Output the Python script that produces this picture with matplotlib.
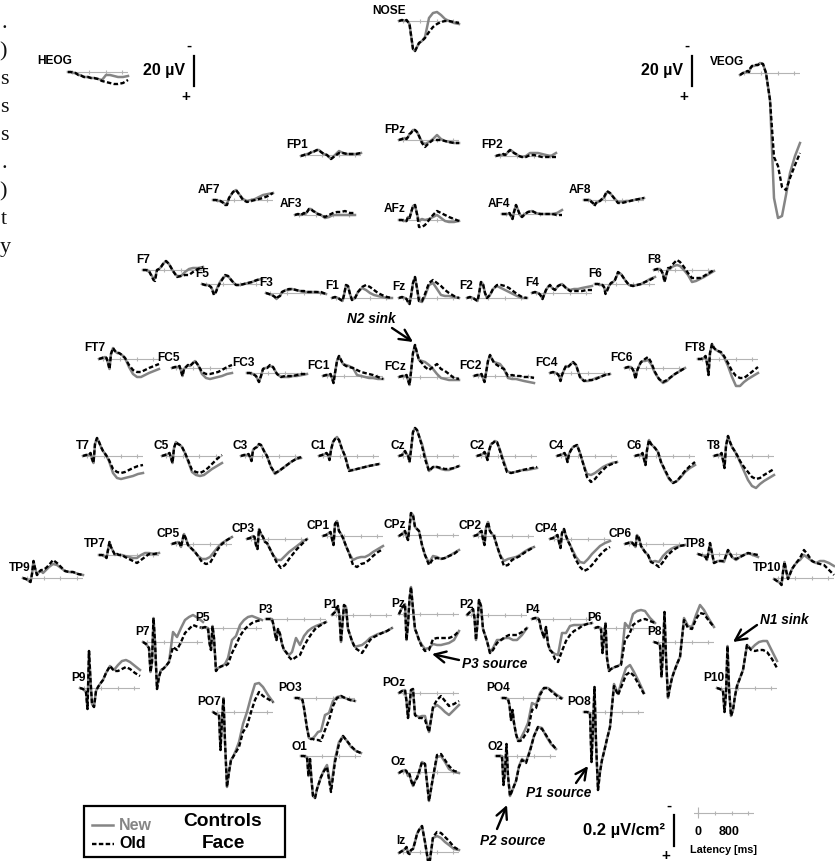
import matplotlib
matplotlib.use("Agg")
import matplotlib.pyplot as plt
from matplotlib.patches import Rectangle

plt.rcParams['font.family'] = ['Liberation Sans', 'DejaVu Sans']

W, H = 835, 861

# latency of the read-off samples, ms
LATENCY = [-100, -28, 44, 80, 116, 152, 188, 236, 284, 332, 380, 452, 524, 620, 716, 812, 908, 1004, 1100, 1220, 1340]
TICKS = [0, 400, 800, 1200]

# amplitudes in scale-bar units (31 units = 0.2 uV/cm2), up is negative polarity
NOSE_NEW = [0, 1, 0, 1, -1, -3, -14, -28, -30, -26, -22, -20, -16, 3, 8, 9, 6, 2, 0, -2, -3]
NOSE_OLD = [0, 1, 0, 1, -1, -3, -14, -28, -30, -26, -22, -20, -17, -11, -6, -3, -1, 0, 0, -1, -2]
HEOG_NEW = [0, 0, -1, -1, -2, -3, -3, -4, -5, -5, -5, -6, -6, -7, -8, -3, -3, -4, -5, -5, -4]
HEOG_OLD = [0, 0, -1, -1, -2, -3, -3, -4, -5, -5, -5, -6, -6, -7, -9, -10, -11, -12, -12, -11, -8]
VEOG_NEW = [-2, 0, 1, 2, 1, 5, 7, 7, 8, 8, 10, 9, 0, -27, -125, -145, -143, -122, -100, -83, -70]
VEOG_OLD = [-2, 0, 1, 2, 1, 5, 7, 7, 8, 8, 10, 9, 0, -27, -84, -93, -114, -117, -105, -92, -80]
FP1_NEW = [-1, 0, 1, 1, 2, 3, 3, 4, 5, 5, 3, 1, 0, -4, 0, 4, 2, 1, 1, 1, 2]
FP1_OLD = [-1, 0, 1, 1, 2, 3, 3, 4, 5, 5, 3, 1, 0, -4, -1, 2, 2, 1, 1, 1, 2]
FPZ_NEW = [0, 1, 2, 1, 3, 6, 7, 10, 10, 8, 4, -2, -4, -2, 1, 5, 1, -1, -2, -3, -3]
FPZ_OLD = [0, 1, 2, 1, 3, 6, 7, 10, 10, 8, 4, -3, -7, -3, 0, 0, 0, -1, -2, -3, -3]
FP2_NEW = [0, 1, 1, 2, 1, 2, 4, 6, 5, 3, 2, 0, -1, 0, 3, 3, 3, 2, 1, 0, 3]
FP2_OLD = [0, 1, 1, 2, 1, 2, 4, 6, 5, 3, 2, 0, -1, -1, 1, 1, 0, -1, -1, -1, -1]
AF7_NEW = [0, 0, -1, -1, -2, -3, -4, -4, 2, 5, 8, 10, 6, 1, -1, 0, 1, 3, 5, 6, 7]
AF7_OLD = [0, 0, -1, -1, -2, -3, -5, -5, 2, 5, 8, 10, 6, 0, -2, -1, 0, 1, 2, 4, 7]
AF3_NEW = [0, 1, 0, 1, 2, 1, 3, 6, 6, 4, 3, 1, 0, -3, -2, 0, 0, 0, 0, 0, 0]
AF3_OLD = [0, 1, 0, 1, 2, 1, 3, 6, 6, 4, 3, 1, 0, -2, 0, 2, 3, 3, 4, 2, 2]
AFZ_NEW = [0, 0, -1, -1, 3, 2, 7, 14, 15, 6, -1, 1, 0, 1, 3, 5, 2, -1, -2, -2, -1]
AFZ_OLD = [0, 0, -1, -1, 3, 2, 7, 14, 15, 6, -7, -7, -5, 0, 5, 9, 7, 5, 3, 1, -1]
AF4_NEW = [0, 0, 0, 1, -2, -5, 2, 9, 4, -1, -3, 0, 2, 3, 1, 0, 0, 0, 0, 1, 4]
AF4_OLD = [0, 0, 0, 1, -2, -5, 2, 9, 4, -1, -3, 0, 2, 3, 1, 0, 0, 0, 0, -1, -1]
AF8_NEW = [0, 0, 0, -2, -3, -5, -3, -2, -1, 1, 2, 8, 7, 2, -2, -2, -1, -1, 0, 1, 2]
AF8_OLD = [0, 0, 0, -2, -3, -6, -3, -1, -1, 1, 3, 9, 7, 2, -3, -3, -2, -1, 0, 1, 2]
F7_NEW = [0, 0, -1, -4, -6, -9, -8, 0, 1, 3, 6, 9, 6, -1, -6, -6, -2, 1, 2, 2, 3]
F7_OLD = [0, 0, -1, -4, -7, -10, -11, 0, 1, 3, 6, 9, 6, -1, -7, -6, -5, -5, -2, 1, 3]
F5_NEW = [0, -1, -1, -2, -3, -6, -10, -7, -2, 2, 5, 8, 8, 3, -1, -1, 0, 1, 2, 4, 5]
F5_OLD = [0, -1, -1, -2, -3, -7, -11, -8, -3, 1, 4, 9, 8, 3, -1, -1, 0, 1, 2, 4, 5]
F3_NEW = [0, -1, -2, -3, -4, -6, -4, -3, 1, 2, 3, 3, 4, 3, 2, 1, 1, 1, 1, 0, -1]
F3_OLD = [0, -1, -2, -3, -4, -6, -4, -3, 1, 2, 3, 4, 4, 3, 2, 2, 1, 1, 1, 1, -1]
F1_NEW = [0, 1, 0, -1, -2, -3, 3, 13, 12, 4, -2, 0, 6, 10, 8, 5, 3, 2, 1, 0, 0]
F1_OLD = [0, 1, 0, -1, -2, -3, 3, 13, 12, 4, -2, 0, 6, 11, 13, 11, 8, 5, 3, 1, 0]
FZ_NEW = [0, 1, 0, -1, -4, -6, 2, 15, 21, 10, -3, -4, 2, 13, 15, 9, 3, 2, 2, 1, 0]
FZ_OLD = [0, 1, 0, -1, -4, -6, 2, 15, 21, 10, -3, -3, 4, 15, 18, 15, 12, 8, 5, 2, 0]
F2_NEW = [0, 1, 0, -1, -2, -3, 4, 16, 14, 5, 0, 3, 9, 12, 10, 8, 6, 4, 2, 0, 0]
F2_OLD = [0, 1, 0, -1, -2, -3, 4, 16, 14, 5, 0, 3, 9, 13, 13, 12, 10, 7, 4, 1, 0]
F4_NEW = [0, 1, 0, -1, -3, -6, -2, 3, 6, 8, 5, 3, 7, 9, 5, 3, 4, 4, 5, 6, 7]
F4_OLD = [0, 1, 0, -1, -3, -6, -2, 3, 6, 8, 5, 3, 7, 9, 5, 2, 2, 2, 2, 3, 3]
F6_NEW = [0, 0, -1, -1, -3, -8, -6, -2, 1, 2, 4, 11, 10, 4, -1, -2, -1, 0, 2, 5, 7]
F6_OLD = [0, 0, -1, -1, -3, -10, -7, -2, 1, 2, 4, 12, 10, 4, -1, -2, -1, 0, 2, 4, 7]
F8_NEW = [0, 1, 1, -1, -4, -11, -6, 1, 1, 3, 4, 5, 4, 0, -5, -12, -11, -9, -7, -4, -1]
F8_OLD = [0, 1, 1, -1, -4, -12, -6, 2, 2, 5, 7, 10, 8, 3, -3, -8, -8, -8, -6, -3, 0]
FT7_NEW = [0, 1, 2, 1, -4, -10, 5, 11, 8, 6, 6, 4, 1, -8, -15, -18, -18, -16, -14, -12, -10]
FT7_OLD = [0, 1, 2, 1, -4, -10, 5, 11, 8, 6, 6, 4, 1, -6, -11, -13, -13, -11, -9, -7, -5]
FC5_NEW = [0, 1, 1, 2, -3, -8, -1, 1, 3, 2, 4, 7, 3, -6, -10, -11, -10, -9, -8, -6, -5]
FC5_OLD = [0, 1, 1, 2, -3, -8, -1, 1, 3, 2, 4, 7, 3, -4, -6, -6, -5, -4, -2, 1, 3]
FC3_NEW = [0, 0, -1, -2, -3, -6, -9, -3, 4, 5, 5, 7, 6, -1, -4, -4, -4, -3, -3, -2, -1]
FC3_OLD = [0, 0, -1, -2, -3, -6, -9, -3, 4, 5, 5, 8, 6, -1, -4, -3, -3, -3, -2, -1, -1]
FC1_NEW = [0, 1, 1, 2, -2, -7, 3, 15, 20, 16, 12, 11, 10, 8, 1, 0, -1, -2, -2, -3, -3]
FC1_OLD = [0, 1, 1, 2, -2, -7, 3, 15, 20, 16, 12, 10, 9, 8, 6, 4, 3, 2, 1, -1, -3]
FCZ_NEW = [0, 1, 1, 2, -3, -8, 5, 24, 32, 24, 17, 16, 15, 12, 8, 3, -1, -2, -3, -3, -3]
FCZ_OLD = [0, 1, 1, 2, -3, -8, 5, 24, 32, 24, 17, 14, 10, 7, 10, 13, 8, 6, 3, -1, -2]
FC2_NEW = [0, 1, 1, 2, -2, -6, 3, 15, 21, 17, 14, 13, 12, 7, -2, -3, -3, -4, -5, -6, -7]
FC2_OLD = [0, 1, 1, 2, -2, -6, 3, 15, 21, 17, 13, 11, 9, 7, 0, 1, 0, 0, -1, -1, -2]
FC4_NEW = [0, 1, 0, -1, -3, -8, -2, 3, 7, 6, 8, 11, 8, -4, -8, -8, -7, -5, -4, -2, -1]
FC4_OLD = [0, 1, 0, -1, -3, -8, -2, 3, 7, 6, 8, 11, 8, -4, -8, -7, -7, -6, -4, -2, -1]
FC6_NEW = [0, 1, 1, -1, -4, -10, -3, 2, 6, 7, 7, 8, 4, -5, -11, -15, -13, -9, -6, -3, 0]
FC6_OLD = [0, 1, 1, -1, -4, -11, -3, 2, 6, 7, 9, 11, 6, -4, -11, -14, -12, -9, -6, -3, 0]
FT8_NEW = [0, 0, 1, 3, -4, -16, 6, 15, 11, 9, 8, 6, 2, -7, -18, -27, -27, -23, -20, -17, -14]
FT8_OLD = [0, 0, 1, 3, -4, -16, 6, 15, 11, 9, 8, 7, 3, -4, -12, -17, -19, -19, -16, -12, -8]
T7_NEW = [0, 1, 1, 3, -3, -7, 12, 18, 14, 9, 5, 1, -5, -17, -22, -23, -22, -21, -20, -18, -17]
T7_OLD = [0, 1, 1, 3, -3, -7, 12, 18, 14, 9, 5, 1, -4, -13, -16, -17, -16, -14, -12, -10, -9]
C5_NEW = [0, 1, 2, 3, -2, -7, 8, 14, 12, 11, 9, 3, -5, -16, -19, -20, -19, -16, -13, -10, -7]
C5_OLD = [0, 1, 2, 3, -2, -7, 8, 14, 12, 11, 9, 3, -4, -14, -16, -17, -15, -12, -8, -3, 1]
C3_NEW = [0, 1, 1, 2, -1, -5, 6, 8, 9, 12, 11, 5, 0, -11, -18, -15, -12, -9, -6, -3, -2]
C3_OLD = [0, 1, 1, 2, -1, -5, 6, 8, 9, 12, 11, 5, 0, -11, -17, -15, -12, -9, -6, -3, -1]
C1_NEW = [0, 1, 2, 3, 1, -4, 6, 14, 17, 19, 16, 7, 0, -14, -14, -13, -12, -11, -10, -9, -8]
C1_OLD = [0, 1, 2, 3, 1, -4, 6, 14, 17, 18, 16, 7, 0, -15, -14, -13, -12, -11, -10, -9, -8]
CZ_NEW = [0, 1, 5, 2, 1, -6, 6, 24, 28, 26, 20, 12, 0, -15, -11, -11, -13, -14, -14, -12, -10]
CZ_OLD = [0, 1, 5, 2, 1, -6, 6, 24, 28, 26, 20, 10, -3, -15, -11, -11, -12, -13, -13, -12, -10]
C2_NEW = [0, 1, 2, 4, 1, -4, 5, 12, 13, 15, 14, 6, -3, -15, -17, -16, -15, -14, -14, -13, -12]
C2_OLD = [0, 1, 2, 4, 1, -4, 5, 12, 13, 15, 14, 5, -5, -16, -17, -16, -15, -14, -13, -12, -11]
C4_NEW = [0, 1, 2, 3, 0, -6, 2, 6, 9, 10, 11, 3, -7, -18, -19, -17, -14, -11, -9, -7, -6]
C4_OLD = [0, 1, 2, 3, 0, -6, 2, 6, 9, 10, 11, 3, -7, -21, -26, -23, -18, -14, -10, -8, -6]
C6_NEW = [0, 1, 1, 3, -3, -9, 6, 16, 12, 10, 8, 4, -6, -15, -23, -27, -25, -21, -16, -12, -9]
C6_OLD = [0, 1, 1, 3, -3, -9, 6, 16, 12, 10, 8, 4, -6, -14, -22, -27, -25, -20, -15, -10, -6]
T8_NEW = [0, 1, 1, 3, -4, -12, 10, 20, 14, 9, 6, 1, -6, -15, -24, -30, -32, -28, -25, -22, -19]
T8_OLD = [0, 1, 1, 3, -4, -12, 10, 20, 14, 9, 6, 1, -5, -11, -16, -21, -23, -22, -19, -16, -13]
TP9_NEW = [0, -1, -3, -4, 4, 17, 10, 3, 6, 7, 5, 8, 11, 14, 13, 10, 7, 6, 6, 4, 3]
TP9_OLD = [0, -1, -3, -4, 4, 17, 10, 3, 6, 8, 8, 10, 13, 18, 15, 11, 7, 6, 6, 4, 3]
TP7_NEW = [0, 0, -1, -3, 5, 13, 8, 4, 0, 1, 0, 0, -1, -2, -3, -3, 0, 2, 2, 1, 2]
TP7_OLD = [0, 0, -1, -3, 5, 13, 8, 4, 0, 1, 0, 0, -2, -4, -6, -8, -5, -2, 1, 1, 2]
CP5_NEW = [0, 1, 2, 1, -3, 4, 10, 5, -1, -3, -5, -8, -12, -15, -15, -13, -8, -3, 1, 4, 7]
CP5_OLD = [0, 1, 2, 1, -3, 4, 10, 5, -1, -3, -5, -8, -12, -18, -20, -19, -12, -5, 0, 4, 7]
CP3_NEW = [0, 1, 3, 2, -6, -10, 10, 5, 2, -3, -4, -10, -16, -21, -21, -17, -13, -10, -7, -3, 0]
CP3_OLD = [0, 1, 3, 2, -6, -10, 10, 5, 2, -3, -4, -10, -16, -24, -29, -26, -20, -15, -10, -5, 0]
CP1_NEW = [0, 1, 3, 4, -3, -9, 12, 15, 5, 2, -2, -10, -17, -24, -22, -21, -21, -19, -16, -13, -10]
CP1_OLD = [0, 1, 3, 4, -3, -9, 12, 15, 5, 2, -2, -10, -17, -29, -31, -28, -27, -24, -20, -16, -13]
CPZ_NEW = [-1, 1, 4, -1, -5, 8, 22, 20, 8, 6, 4, -10, -20, -28, -21, -22, -24, -23, -21, -18, -15]
CPZ_OLD = [-1, 1, 4, -1, -5, 8, 22, 20, 8, 6, 4, -10, -20, -30, -24, -23, -24, -23, -21, -19, -15]
CP2_NEW = [0, 1, 4, 5, -3, -9, 8, 14, 5, 2, 0, -10, -19, -25, -23, -22, -21, -19, -16, -13, -11]
CP2_OLD = [0, 1, 4, 5, -3, -9, 8, 14, 5, 2, 0, -10, -19, -30, -29, -24, -22, -20, -17, -14, -11]
CP4_NEW = [0, 1, 3, 4, -3, -9, 6, 10, 3, -2, -6, -12, -18, -23, -24, -20, -15, -11, -7, -4, -2]
CP4_OLD = [0, 1, 3, 4, -3, -9, 6, 10, 3, -2, -6, -14, -21, -28, -32, -30, -26, -21, -16, -11, -8]
CP6_NEW = [0, 1, 2, 1, -1, -3, 9, 6, -2, -5, -8, -11, -18, -17, -18, -12, -8, -5, -3, -2, -1]
CP6_OLD = [0, 1, 2, 1, -1, -3, 9, 6, -2, -5, -8, -11, -18, -20, -23, -18, -12, -8, -5, -2, -1]
TP8_NEW = [0, -1, -2, -3, -6, 2, 11, 1, -9, -8, -7, -7, -8, 4, -3, -6, -3, -1, 1, -1, -3]
TP8_OLD = [0, -1, -2, -3, -6, 2, 11, 1, -9, -8, -7, -7, -7, 4, -3, -5, -3, -1, 1, 0, -1]
TP10_NEW = [-1, -3, -5, -7, 6, 16, 8, -1, 4, 9, 12, 16, 18, 23, 20, 17, 15, 17, 17, 15, 12]
TP10_OLD = [-1, -3, -5, -7, 6, 16, 8, -1, 4, 9, 12, 16, 20, 28, 23, 17, 15, 14, 13, 8, 3]
P9_NEW = [0, -1, -4, -21, 37, 8, -16, -19, -3, 1, 4, 8, 15, 22, 18, 23, 27, 28, 26, 22, 18]
P9_OLD = [0, -1, -4, -21, 37, 8, -16, -19, -3, 1, 4, 8, 15, 22, 17, 17, 19, 21, 19, 15, 12]
P7_NEW = [0, -2, -6, -30, -20, 24, 0, -47, -35, -28, -27, -24, -20, 10, 5, 14, 22, 25, 27, 24, 20]
P7_OLD = [0, -2, -6, -30, -20, 24, 0, -47, -35, -28, -27, -24, -20, -5, -8, 0, 9, 13, 17, 15, 14]
P5_NEW = [0, 1, 0, -15, -22, 2, -10, -43, -40, -39, -38, -36, -30, -12, -8, 3, 8, 11, 12, 10, 8]
P5_OLD = [0, 1, 0, -15, -22, 2, -10, -43, -40, -39, -38, -38, -36, -25, -17, -8, -2, 2, 5, 7, 8]
P3_NEW = [0, 0, 0, -6, -15, -21, -10, -15, -25, -31, -33, -36, -33, -19, -26, -17, -12, -9, -7, -5, -3]
P3_OLD = [0, 0, 0, -6, -15, -21, -10, -15, -25, -31, -33, -38, -41, -38, -36, -27, -20, -14, -9, -6, -3]
P1_NEW = [0, 3, 9, -2, -27, -8, 10, 8, -14, -20, -26, -32, -31, -30, -27, -23, -21, -19, -18, -16, -13]
P1_OLD = [0, 3, 9, -2, -27, -8, 10, 8, -14, -20, -26, -33, -35, -38, -32, -25, -22, -20, -18, -16, -13]
PZ_NEW = [0, 6, 10, -26, -10, 15, 27, 5, -15, -20, -26, -31, -35, -34, -30, -31, -31, -30, -29, -26, -17]
PZ_OLD = [0, 6, 10, -26, -10, 15, 27, 5, -15, -20, -26, -33, -37, -36, -25, -24, -24, -24, -24, -22, -17]
P2_NEW = [0, 3, 6, -3, -25, -8, 15, 9, -14, -20, -26, -38, -33, -25, -25, -23, -23, -25, -25, -20, -13]
P2_OLD = [0, 3, 6, -3, -25, -8, 15, 9, -14, -20, -26, -38, -35, -28, -25, -22, -20, -20, -20, -17, -13]
P4_NEW = [0, 1, 1, -2, -10, -14, -19, -8, -25, -31, -33, -35, -36, -14, -14, -7, -6, -6, -6, -5, -4]
P4_OLD = [0, 1, 1, -2, -10, -14, -19, -8, -25, -31, -33, -40, -43, -32, -22, -16, -12, -10, -7, -5, -4]
P6_NEW = [0, 1, 0, -25, -10, 5, -30, -43, -41, -40, -39, -38, -36, 5, 0, 14, 17, 18, 17, 10, 5]
P6_OLD = [0, 1, 0, -25, -10, 5, -30, -43, -41, -40, -39, -38, -37, -12, -7, 3, 6, 8, 9, 7, 5]
P8_NEW = [0, -1, -3, -35, -10, 30, -15, -56, -45, -36, -30, -22, -15, 24, 16, 15, 27, 37, 32, 23, 15]
P8_OLD = [0, -1, -3, -35, -10, 30, -15, -56, -45, -36, -30, -22, -15, 22, 14, 13, 23, 29, 28, 21, 15]
P10_NEW = [0, -1, -3, -24, -5, 42, 0, -28, -22, -8, 2, 10, 18, 43, 39, 43, 46, 47, 47, 37, 27]
P10_OLD = [0, -1, -3, -24, -5, 42, 0, -28, -22, -8, 2, 10, 18, 43, 38, 37, 38, 38, 36, 29, 20]
PO7_NEW = [0, -2, -3, -38, -8, 14, -30, -75, -60, -48, -45, -38, -30, -12, 0, 15, 28, 29, 25, 17, 10]
PO7_OLD = [0, -2, -3, -38, -8, 14, -30, -75, -60, -48, -45, -40, -35, -20, -14, 0, 12, 20, 16, 13, 10]
PO3_NEW = [0, 0, -1, -2, -10, -20, -30, -40, -41, -40, -38, -34, -33, -17, -15, -3, 1, 2, 0, -2, -3]
PO3_OLD = [0, 0, -1, -2, -10, -20, -30, -40, -41, -41, -42, -42, -43, -32, -22, -8, 0, 2, 0, -2, -3]
POZ_NEW = [0, 2, 3, -8, -25, -12, 3, 4, -22, -23, -24, -23, -23, -39, -15, -12, -15, -19, -22, -17, -12]
POZ_OLD = [0, 2, 3, -8, -25, -12, 3, 4, -22, -24, -25, -25, -27, -39, -14, -7, -3, -8, -13, -11, -8]
PO4_NEW = [0, 0, -1, -7, -22, -12, -25, -36, -42, -42, -38, -32, -25, -5, -7, 5, 10, 10, 7, 3, 0]
PO4_OLD = [0, 0, -1, -7, -22, -12, -25, -36, -43, -43, -42, -37, -33, -12, -10, 3, 10, 10, 6, 2, -1]
PO8_NEW = [0, 0, -1, -50, -15, 25, -30, -78, -60, -48, -40, -27, -15, 28, 18, 32, 44, 47, 40, 30, 19]
PO8_OLD = [0, 0, -1, -50, -15, 25, -30, -78, -60, -48, -40, -27, -15, 26, 17, 27, 37, 40, 36, 27, 18]
O1_NEW = [0, 0, -1, -20, -3, -24, -40, -42, -33, -27, -21, -14, -9, -32, -3, 14, 20, 15, 9, 5, 3]
O1_OLD = [0, 0, -1, -20, -3, -24, -40, -42, -33, -27, -21, -15, -11, -36, -6, 12, 20, 15, 10, 5, 3]
OZ_NEW = [-1, 1, 2, 0, -4, -3, -8, -14, -9, -6, 0, 10, 8, -29, -6, 15, 16, 10, 3, 0, -1]
OZ_OLD = [-1, 1, 2, 1, -3, -2, -8, -14, -9, -6, 0, 10, 8, -29, -5, 17, 18, 12, 6, 1, 0]
O2_NEW = [0, 0, 0, -29, -15, 12, -20, -40, -35, -30, -25, -10, -3, -6, 6, 20, 29, 28, 20, 12, 7]
O2_OLD = [0, 0, 0, -29, -15, 12, -20, -40, -35, -30, -25, -11, -4, -7, 5, 20, 29, 27, 21, 13, 7]
IZ_NEW = [-1, 1, 3, 5, -1, -2, 2, 3, 10, 18, 22, 26, 10, -15, 14, 16, 14, 10, 7, 3, 2]
IZ_OLD = [-1, 1, 3, 5, -1, -2, 2, 3, 10, 18, 22, 26, 10, -15, 15, 20, 19, 15, 11, 5, 2]

# name: new, old, left px, baseline px, label x px, label y px
CHANNELS = [
    ('NOSE', NOSE_NEW, NOSE_OLD, 399, 21, 389, 11), ('HEOG', HEOG_NEW, HEOG_OLD, 68, 72, 55, 61),
    ('VEOG', VEOG_NEW, VEOG_OLD, 740, 73, 727, 62), ('FP1', FP1_NEW, FP1_OLD, 301, 155, 297, 145),
    ('FPz', FPZ_NEW, FPZ_OLD, 399, 140, 395, 130), ('FP2', FP2_NEW, FP2_OLD, 496, 156, 492, 145),
    ('AF7', AF7_NEW, AF7_OLD, 213, 200, 209, 190), ('AF3', AF3_NEW, AF3_OLD, 295, 215, 291, 204),
    ('AFz', AFZ_NEW, AFZ_OLD, 399, 220, 395, 209), ('AF4', AF4_NEW, AF4_OLD, 502, 214, 499, 204),
    ('AF8', AF8_NEW, AF8_OLD, 584, 200, 580, 190), ('F7', F7_NEW, F7_OLD, 143, 270, 143, 260),
    ('F5', F5_NEW, F5_OLD, 202, 284, 202, 274), ('F3', F3_NEW, F3_OLD, 266, 293, 266, 283),
    ('F1', F1_NEW, F1_OLD, 332, 298, 332, 286), ('Fz', FZ_NEW, FZ_OLD, 399, 298, 399, 287),
    ('F2', F2_NEW, F2_OLD, 467, 298, 466, 286), ('F4', F4_NEW, F4_OLD, 532, 293, 532, 283),
    ('F6', F6_NEW, F6_OLD, 595, 284, 595, 274), ('F8', F8_NEW, F8_OLD, 654, 270, 654, 260),
    ('FT7', FT7_NEW, FT7_OLD, 99, 359, 95, 348), ('FC5', FC5_NEW, FC5_OLD, 172, 368, 168, 358),
    ('FC3', FC3_NEW, FC3_OLD, 247, 373, 243, 363), ('FC1', FC1_NEW, FC1_OLD, 323, 376, 318, 366),
    ('FCz', FCZ_NEW, FCZ_OLD, 399, 377, 395, 367), ('FC2', FC2_NEW, FC2_OLD, 474, 376, 471, 366),
    ('FC4', FC4_NEW, FC4_OLD, 550, 373, 546, 363), ('FC6', FC6_NEW, FC6_OLD, 625, 368, 621, 358),
    ('FT8', FT8_NEW, FT8_OLD, 698, 359, 695, 348), ('T7', T7_NEW, T7_OLD, 83, 456, 83, 446),
    ('C5', C5_NEW, C5_OLD, 162, 456, 161, 446), ('C3', C3_NEW, C3_OLD, 241, 456, 240, 446),
    ('C1', C1_NEW, C1_OLD, 319, 456, 318, 446), ('Cz', CZ_NEW, CZ_OLD, 399, 456, 398, 446),
    ('C2', C2_NEW, C2_OLD, 477, 456, 477, 446), ('C4', C4_NEW, C4_OLD, 557, 456, 556, 446),
    ('C6', C6_NEW, C6_OLD, 635, 456, 634, 446), ('T8', T8_NEW, T8_OLD, 714, 456, 714, 446),
    ('TP9', TP9_NEW, TP9_OLD, 23, 578, 20, 568), ('TP7', TP7_NEW, TP7_OLD, 99, 555, 95, 544),
    ('CP5', CP5_NEW, CP5_OLD, 172, 544, 168, 534), ('CP3', CP3_NEW, CP3_OLD, 247, 539, 243, 529),
    ('CP1', CP1_NEW, CP1_OLD, 323, 536, 318, 526), ('CPz', CPZ_NEW, CPZ_OLD, 399, 535, 395, 525),
    ('CP2', CP2_NEW, CP2_OLD, 474, 536, 470, 526), ('CP4', CP4_NEW, CP4_OLD, 550, 539, 546, 529),
    ('CP6', CP6_NEW, CP6_OLD, 625, 544, 620, 534), ('TP8', TP8_NEW, TP8_OLD, 698, 554, 695, 544),
    ('TP10', TP10_NEW, TP10_OLD, 774, 578, 767, 568), ('P9', P9_NEW, P9_OLD, 80, 688, 79, 678),
    ('P7', P7_NEW, P7_OLD, 143, 642, 143, 632), ('P5', P5_NEW, P5_OLD, 202, 628, 202, 618),
    ('P3', P3_NEW, P3_OLD, 266, 619, 265, 610), ('P1', P1_NEW, P1_OLD, 332, 615, 331, 605),
    ('Pz', PZ_NEW, PZ_OLD, 399, 614, 398, 604), ('P2', P2_NEW, P2_OLD, 467, 615, 466, 605),
    ('P4', P4_NEW, P4_OLD, 532, 619, 532, 610), ('P6', P6_NEW, P6_OLD, 595, 628, 594, 618),
    ('P8', P8_NEW, P8_OLD, 654, 642, 654, 632), ('P10', P10_NEW, P10_OLD, 717, 688, 714, 678),
    ('PO7', PO7_NEW, PO7_OLD, 213, 712, 209, 702), ('PO3', PO3_NEW, PO3_OLD, 295, 698, 290, 688),
    ('POz', POZ_NEW, POZ_OLD, 399, 693, 394, 683), ('PO4', PO4_NEW, PO4_OLD, 502, 698, 498, 688),
    ('PO8', PO8_NEW, PO8_OLD, 584, 712, 579, 702), ('O1', O1_NEW, O1_OLD, 301, 756, 299, 747),
    ('Oz', OZ_NEW, OZ_OLD, 399, 772, 398, 762), ('O2', O2_NEW, O2_OLD, 496, 756, 495, 747),
    ('Iz', IZ_NEW, IZ_OLD, 399, 852, 401, 841),
]

GRAY = '#858585'
AXIS_GRAY = '#b4b4b4'
DASHES = (0, (1.9, 1.0))


def small_axes(fig, x0, base):
    # one unit = one pixel vertically, 60 px across for the latency range
    half = 170
    ax = fig.add_axes([x0 / W, 1 - (base + half) / H, 60 / W, 2 * half / H])
    ax.set_xlim(LATENCY[0], LATENCY[-1])
    ax.set_ylim(-half, half)
    ax.axis('off')
    ax.plot([LATENCY[0], LATENCY[-1]], [0, 0], color=AXIS_GRAY, lw=0.8, zorder=1)
    ax.vlines(TICKS, -2, 2, color=AXIS_GRAY, lw=0.8, zorder=1)
    return ax


fig = plt.figure(figsize=(W / 100, H / 100), dpi=100, facecolor='white')

for name, new, old, x0, base, lx, ly in CHANNELS:
    ax = small_axes(fig, x0, base)
    ax.plot(LATENCY, new, color=GRAY, lw=1.8, clip_on=False, zorder=2)
    ax.plot(LATENCY, old, color='black', lw=1.7, ls=DASHES, clip_on=False, zorder=3)

# latency scale
scale_ax = small_axes(fig, 694, 813)
scale_ax.vlines([0], -5, 6, color=AXIS_GRAY, lw=0.8)

# overlay in pixel coordinates for labels, arrows and legend
top = fig.add_axes([0, 0, 1, 1])
top.set_xlim(0, W)
top.set_ylim(H, 0)
top.axis('off')
top.patch.set_alpha(0)

for name, new, old, x0, base, lx, ly in CHANNELS:
    top.text(lx, ly, name, fontsize=8.6, fontweight='bold', ha='center', va='center')

# body text fragments on the left edge
for i, (ch, right) in enumerate([('.', 7), (')', 7), ('s', 8.5), ('s', 8.5), ('s', 8.5),
                                 ('.', 7), (')', 7), ('t', 7), ('y', 11)]):
    top.text(right, 28 + 28 * i, ch, fontsize=16, family='Liberation Serif', ha='right', va='baseline', color='#111111')

# amplitude scale bars
for bar_x, y0, y1, minus, plus, label, size, label_y in [
    (194, 56, 86, (189, 46), (186, 97), '20 µV', 11.5, 71),
    (692, 56, 86, (687, 46), (684, 97), '20 µV', 11.5, 71),
    (674, 815, 846, (669, 806), (666, 856), '0.2 µV/cm²', 11.9, 831),
]:
    top.plot([bar_x, bar_x], [y0, y1], color='black', lw=1.6)
    top.text(minus[0], minus[1], '-', fontsize=11, fontweight='bold', ha='center', va='center')
    top.text(plus[0], plus[1], '+', fontsize=11, fontweight='bold', ha='center', va='center')
    top.text(bar_x - 9, label_y, label, fontsize=size, fontweight='bold', ha='right', va='center')

top.text(698, 832, '0', fontsize=9, fontweight='bold', ha='center', va='center')
top.text(729, 832, '800', fontsize=9, fontweight='bold', ha='center', va='center')
top.text(724, 850, 'Latency [ms]', fontsize=7.8, fontweight='bold', ha='center', va='center')

# annotated peaks
for label, tx, ty, start, end in [
    ('N2 sink', 371, 319, (392, 328), (413, 342)),
    ('P3 source', 495, 664, (459, 660), (432, 654)),
    ('N1 sink', 784, 620, (757, 625), (733, 642)),
    ('P1 source', 559, 793, (576, 783), (588, 766)),
    ('P2 source', 513, 841, (497, 829), (507, 805)),
]:
    top.text(tx, ty, label, fontsize=9.8, fontweight='bold', style='italic', ha='center', va='center')
    top.annotate('', xy=end, xytext=start,
                 arrowprops=dict(arrowstyle='->', lw=1.7, color='black', mutation_scale=20, shrinkA=0, shrinkB=0))

# legend box
top.add_patch(Rectangle((84, 806), 201, 51, fill=False, ec='black', lw=1.6))
top.plot([92, 113], [825, 825], color=GRAY, lw=1.8)
top.plot([92, 114], [844, 844], color='black', lw=1.7, ls=DASHES)
top.text(119, 825, 'New', fontsize=11.5, fontweight='bold', color=GRAY, va='center')
top.text(119, 844, 'Old', fontsize=11.5, fontweight='bold', va='center')
top.text(223, 822, 'Controls', fontsize=13.8, fontweight='bold', ha='center', va='center')
top.text(223, 844, 'Face', fontsize=13.8, fontweight='bold', ha='center', va='center')

fig.savefig('out.png', dpi=100)
